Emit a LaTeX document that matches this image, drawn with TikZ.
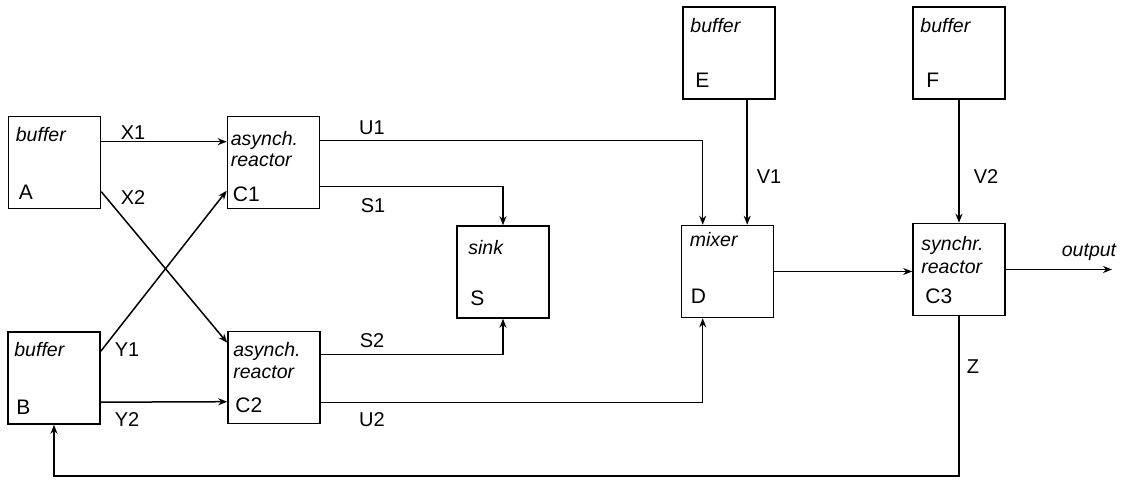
\documentclass[tikz,border=0pt]{standalone}
\usepackage{fontspec}
\setmainfont{Liberation Sans}
\usetikzlibrary{arrows.meta,calc}
\begin{document}
\begin{tikzpicture}[x=1pt,y=-1pt,
  box/.style={draw, line width=1.6pt, minimum width=92pt, minimum height=92pt, inner sep=0pt},
  word/.style={anchor=base west, inner sep=0pt, font=\fontsize{19.5}{19.5}\selectfont\itshape},
  tag/.style={anchor=base west, inner sep=0pt, font=\fontsize{21}{21}\selectfont},
  lab/.style={inner sep=0pt, font=\fontsize{20}{20}\selectfont},
  conn/.style={line width=1.5pt, -{Stealth[length=9pt,width=7pt]}}]
\useasboundingbox (0,0) rectangle (1132,481);
% boxes
\node[box] (A)  at (54.5,162.5) {};
\node[box] (C1) at (273.5,162.5) {};
\node[box] (B)  at (54,378) {};
\node[box] (C2) at (274,377.5) {};
\node[box] (S)  at (503,272) {};
\node[box] (D)  at (727.5,271.5) {};
\node[box] (E)  at (729,53) {};
\node[box] (F)  at (959,53) {};
\node[box] (C3) at (959,269.5) {};
% box texts
\node[word] (tA1) at ($(A.north west)+(8,26)$) {buffer};
\node[tag]  (tA2) at ($(A.north west)+(11,84)$) {A};
\node[word] (tC11) at ($(C1.north west)+(4,30)$) {asynch.};
\node[word] (tC12) at ($(C1.north west)+(4,51)$) {reactor};
\node[tag]  (tC13) at ($(C1.north west)+(6,86)$) {C1};
\node[word] (tB1) at ($(B.north west)+(7,25)$) {buffer};
\node[tag]  (tB2) at ($(B.north west)+(9,83)$) {B};
\node[word] (tC21) at ($(C2.north west)+(6,26)$) {asynch.};
\node[word] (tC22) at ($(C2.north west)+(6,48)$) {reactor};
\node[tag]  (tC23) at ($(C2.north west)+(8,82)$) {C2};
\node[word] (tS1) at ($(S.north west)+(12,29)$) {sink};
\node[tag]  (tS2) at ($(S.north west)+(14,80)$) {S};
\node[word] (tD1) at ($(D.north west)+(9,22)$) {mixer};
\node[tag]  (tD2) at ($(D.north west)+(10,79)$) {D};
\node[word] (tE1) at ($(E.north west)+(8,26)$) {buffer};
\node[tag]  (tE2) at ($(E.north west)+(13,81)$) {E};
\node[word] (tF1) at ($(F.north west)+(8,26)$) {buffer};
\node[tag]  (tF2) at ($(F.north west)+(14,81)$) {F};
\node[word] (tC31) at ($(C3.north west)+(9,28)$) {synchr.};
\node[word] (tC32) at ($(C3.north west)+(9,51)$) {reactor};
\node[tag]  (tC33) at ($(C3.north west)+(13,81)$) {C3};
% free ends
\coordinate (outp) at (1112,269.5);
\coordinate (fb) at (961,476);
\coordinate (e1) at ($(E.south west)+(65,0)$);
% connectors
\draw[conn] ($(A.north east)+(0,26)$) -- ($(C1.north west)+(0,26)$);
\draw[conn] ($(A.north east)+(0,76)$) -- ($(C2.north west)+(0,12)$);
\draw[conn] ($(B.north east)+(0,20)$) -- ($(C1.north west)+(0,75)$);
\draw[conn] ($(B.north east)+(0,71)$) -- ($(C2.north west)+(0,71)$);
\draw[conn] ($(C1.north east)+(0,25)$) -| ($(D.north west)+(22,0)$);
\draw[conn] ($(C1.north east)+(0,71)$) -| (S.north);
\draw[conn] ($(C2.north east)+(0,24)$) -| (S.south);
\draw[conn] ($(C2.north east)+(0,72)$) -| ($(D.south west)+(22,0)$);
\draw[conn] (e1) -- (e1 |- D.north);
\draw[conn] (D.east) -- (D.east -| C3.west);
\draw[conn] (F.south) -- (C3.north);
\draw[conn] (C3.east) -- (outp);
\draw[conn] (C3.south) -- (C3.south |- fb) -| (B.south);
% connector labels
\node[lab] (lX1) at (133,133) {X1};
\node[lab] (lX2) at (133,198) {X2};
\node[lab] (lY1) at (127,350) {Y1};
\node[lab] (lY2) at (127,420) {Y2};
\node[lab] (lU1) at (372,128) {U1};
\node[lab] (lS1) at (373,206) {S1};
\node[lab] (lS2) at (372,341) {S2};
\node[lab] (lU2) at (372,420) {U2};
\node[lab] (lV1) at (769,177) {V1};
\node[lab] (lV2) at (986,177) {V2};
\node[lab] (lZ)  at (973,367) {Z};
\node[lab,font=\fontsize{19.5}{19.5}\selectfont\itshape] (lout) at (1089,252) {output};
\end{tikzpicture}
\end{document}
